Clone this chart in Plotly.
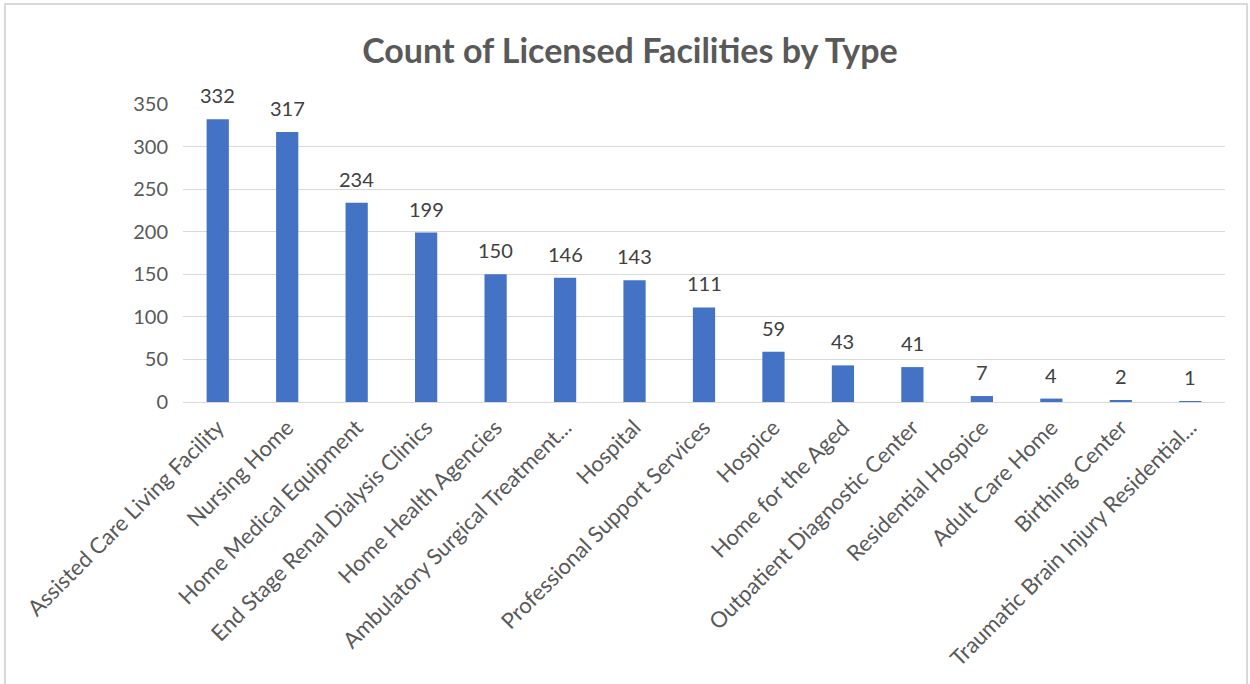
import plotly.graph_objects as go

categories = [
    "Assisted Care Living Facility", "Nursing Home", "Home Medical Equipment",
    "End Stage Renal Dialysis Clinics", "Home Health Agencies",
    "Ambulatory Surgical Treatment...", "Hospital", "Professional Support Services",
    "Hospice", "Home for the Aged", "Outpatient Diagnostic Center",
    "Residential Hospice", "Adult Care Home", "Birthing Center",
    "Traumatic Brain Injury Residential...",
]
counts = [332, 317, 234, 199, 150, 146, 143, 111, 59, 43, 41, 7, 4, 2, 1]
y_ticks = [0, 50, 100, 150, 200, 250, 300, 350]

FONT = "Lato, Calibri, Carlito, sans-serif"

fig = go.Figure(go.Bar(
    x=categories, y=counts,
    marker=dict(color="#4472C4", line=dict(width=0)),
    width=0.32,
    hoverinfo="x+y",
))

L, R, T, B = 183, 1225, 104, 402
W, H = 1250, 684
pw, ph = R - L, B - T

annotations = [
    dict(x=c, y=v, xref="x", yref="y", text=str(v), showarrow=False,
         yanchor="middle", yshift=24,
         font=dict(family=FONT, size=20, color="#404040"))
    for c, v in zip(categories, counts)
]

fig.update_layout(
    width=W, height=H,
    margin=dict(l=L, r=W - R, t=T, b=H - B, autoexpand=False),
    plot_bgcolor="white", paper_bgcolor="white",
    showlegend=False,
    title=dict(
        text="<b>Count of Licensed Facilities by Type</b>",
        x=630 / W, xref="container", xanchor="center",
        y=1 - 51 / H, yref="container", yanchor="middle",
        font=dict(family=FONT, size=34, color="#595959"),
    ),
    xaxis=dict(
        tickangle=-45, showgrid=False, showline=True, linecolor="#d9d9d9",
        tickfont=dict(family=FONT, size=22, color="#595959"),
        ticks="", automargin=False, ticklabelstandoff=3,
    ),
    yaxis=dict(
        range=[0, 350], tickvals=y_ticks, showgrid=True, gridcolor="#d9d9d9",
        gridwidth=1, zeroline=False, showline=False, ticks="",
        tickfont=dict(family=FONT, size=20, color="#595959"),
        ticklabelstandoff=14, automargin=False,
    ),
    annotations=annotations,
    shapes=[dict(
        type="rect", xref="paper", yref="paper",
        x0=(5 - L) / pw, x1=(1247 - L) / pw,
        y0=(B - 700) / ph, y1=(B - 4) / ph,
        line=dict(color="#d9d9d9", width=2), fillcolor="rgba(0,0,0,0)",
        layer="below",
    )],
)

fig.write_html("out.html", config={"displayModeBar": False},
               post_script="document.body.style.margin='0';")
